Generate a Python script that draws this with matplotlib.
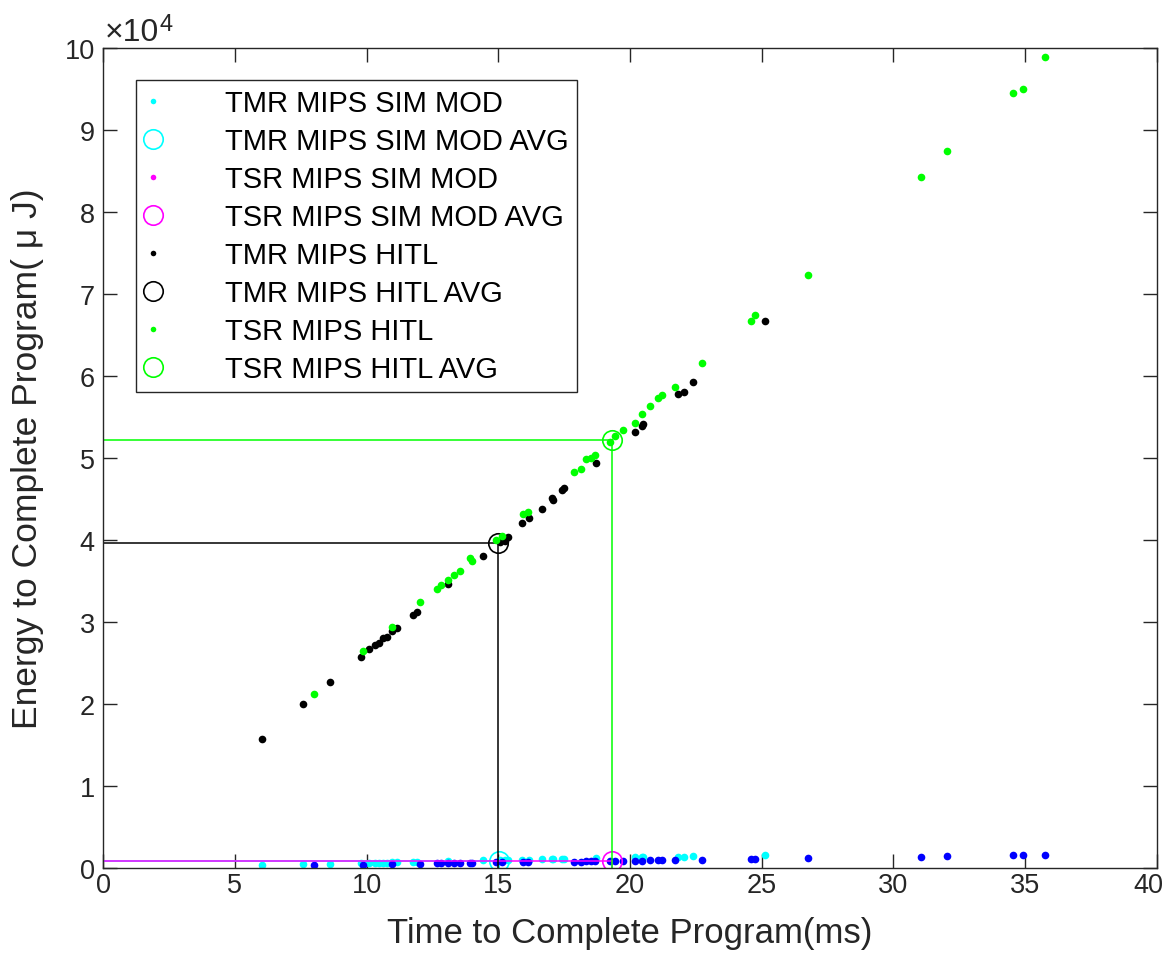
import matplotlib
matplotlib.use("Agg")
import matplotlib.pyplot as plt
from matplotlib.lines import Line2D
from matplotlib.ticker import FuncFormatter
from matplotlib.transforms import ScaledTranslation

plt.rcParams['font.family'] = ['Liberation Sans', 'DejaVu Sans']

# TMR runs: time (ms), HITL energy (uJ), simulated model energy (uJ)
tmr_time = [6.03, 7.59, 8.61, 9.78, 10.11, 10.32, 10.49, 10.64, 10.77, 10.97, 11.15,
            11.75, 11.90, 13.10, 14.43, 15.07, 15.26, 15.38, 15.89, 16.18, 16.65,
            17.05, 17.09, 17.41, 17.51, 18.72, 20.18, 20.44, 20.48, 21.81, 22.06,
            22.40, 25.14]
tmr_hitl = [15700, 20000, 22680, 25730, 26670, 27200, 27440, 28000, 28200, 28900, 29270,
            30900, 31260, 34590, 38090, 39700, 39900, 40400, 42020, 42680, 43780,
            45120, 44900, 46130, 46380, 49430, 53200, 53850, 54150, 57840, 58000,
            59300, 66670]
tmr_sim = [320, 450, 520, 610, 610, 620, 620, 630, 640, 700, 730,
           750, 760, 850, 930, 960, 970, 980, 1000, 1010, 1050,
           1100, 1100, 1110, 1120, 1220, 1300, 1330, 1340, 1380, 1390,
           1430, 1590]

# TSR runs
tsr_time = [8.00, 9.88, 10.98, 12.03, 12.69, 12.83, 13.10, 13.33, 13.55, 13.93, 13.99,
            14.90, 15.13, 15.95, 16.12, 17.87, 18.13, 18.33, 18.51, 18.66, 19.24,
            19.43, 19.75, 20.20, 20.47, 20.75, 21.05, 21.23, 21.72, 22.72, 24.58,
            24.76, 26.77, 31.06, 32.04, 34.55, 34.93, 35.74]
tsr_hitl = [21200, 26430, 29340, 32480, 34020, 34470, 35120, 35680, 36220, 37770, 37440,
            40040, 40450, 43200, 43370, 48290, 48660, 49840, 50040, 50330, 51980,
            52680, 53370, 54220, 55330, 56340, 57350, 57680, 58660, 61540, 66710,
            67400, 72320, 84230, 87440, 94550, 95000, 98940]
tsr_sim = [320, 400, 520, 520, 570, 570, 610, 610, 620, 650, 650,
           680, 680, 700, 700, 770, 780, 800, 820, 840, 880,
           880, 880, 890, 900, 920, 950, 950, 970, 990, 1100,
           1100, 1180, 1380, 1430, 1590, 1590, 1620]

# averages (time, energy)
tmr_sim_avg = (15.03, 900)
tsr_sim_avg = (19.32, 850)
tmr_hitl_avg = (15.00, 39600)
tsr_hitl_avg = (19.32, 52200)

labels = ['TMR MIPS SIM MOD', 'TMR MIPS SIM MOD AVG', 'TSR MIPS SIM MOD',
          'TSR MIPS SIM MOD AVG', 'TMR MIPS HITL', 'TMR MIPS HITL AVG',
          'TSR MIPS HITL', 'TSR MIPS HITL AVG']

fig = plt.figure(figsize=(11.67, 9.70), dpi=100)
ax = fig.add_axes([0.0883, 0.1041, 0.9031, 0.8454])

dot = dict(linestyle='none', marker='o', markersize=5.5, markeredgewidth=0)
ring = dict(linestyle='none', marker='o', markersize=14, markerfacecolor='none',
            markeredgewidth=1.2)

def avg_lines(p, c):
    ax.plot([0, p[0]], [p[1], p[1]], color=c, lw=1.1)
    ax.plot([p[0], p[0]], [0, p[1]], color=c, lw=1.1)

ax.plot(tmr_time, tmr_sim, color='cyan', **dot)
avg_lines(tmr_sim_avg, 'cyan')
ax.plot(*tmr_sim_avg, color='cyan', **ring)
ax.plot(tsr_time, tsr_sim, color='blue', **dot)
avg_lines(tsr_sim_avg, 'magenta')
ax.plot(*tsr_sim_avg, color='magenta', **ring)
ax.plot(tmr_time, tmr_hitl, color='black', **dot)
avg_lines(tmr_hitl_avg, 'black')
ax.plot(*tmr_hitl_avg, color='black', **ring)
ax.plot(tsr_time, tsr_hitl, color=(0, 1, 0), **dot)
avg_lines(tsr_hitl_avg, (0, 1, 0))
ax.plot(*tsr_hitl_avg, color=(0, 1, 0), **ring)

ax.set_xlim(0, 40)
ax.set_ylim(0, 100000)
ax.set_xticks(range(0, 41, 5))
ax.set_yticks(range(0, 100001, 10000))
ax.yaxis.set_major_formatter(FuncFormatter(lambda v, p: '%g' % (v / 1e4)))
ax.tick_params(direction='in', length=10, width=1, top=True, right=True,
               labelsize=19.5, colors='#262626', pad=6)
ax.tick_params(axis='x', pad=3)
for s in ax.spines.values():
    s.set_color('#262626')
    s.set_linewidth(1)

# keep the last x tick label inside the figure
last = ax.get_xticklabels()[-1]
last.set_transform(last.get_transform() + ScaledTranslation(-6 / 72, 0, fig.dpi_scale_trans))

# x10^4 multiplier above the y axis
fig.text(0.0895, 0.9577, '×10', fontsize=23, color='#262626', ha='left', va='baseline')
fig.text(0.1370, 0.968, '4', fontsize=17, color='#262626', ha='left', va='baseline')

ax.set_xlabel('Time to Complete Program(ms)', fontsize=25, color='#262626', labelpad=13)
ax.set_ylabel('Energy to Complete Program( μ J)', fontsize=25.5, color='#262626', labelpad=15)

cols = ['cyan', 'cyan', 'magenta', 'magenta', 'black', 'black', (0, 1, 0), (0, 1, 0)]
handles = []
for i, c in enumerate(cols):
    if i % 2 == 0:
        handles.append(Line2D([], [], linestyle='none', marker='o', markersize=4,
                              markeredgewidth=0, color=c))
    else:
        handles.append(Line2D([], [], linestyle='none', marker='o', markersize=14,
                              markerfacecolor='none', markeredgewidth=1.2, color=c))
leg = ax.legend(handles, labels, loc='upper left', bbox_to_anchor=(0.031, 0.961),
                borderaxespad=0, fontsize=21, labelspacing=0.345, handlelength=0.6,
                handletextpad=2.15, borderpad=0.3, fancybox=False, framealpha=1)
leg.get_frame().set_edgecolor('#262626')
leg.get_frame().set_linewidth(1)

fig.savefig('out.png', dpi=100)
